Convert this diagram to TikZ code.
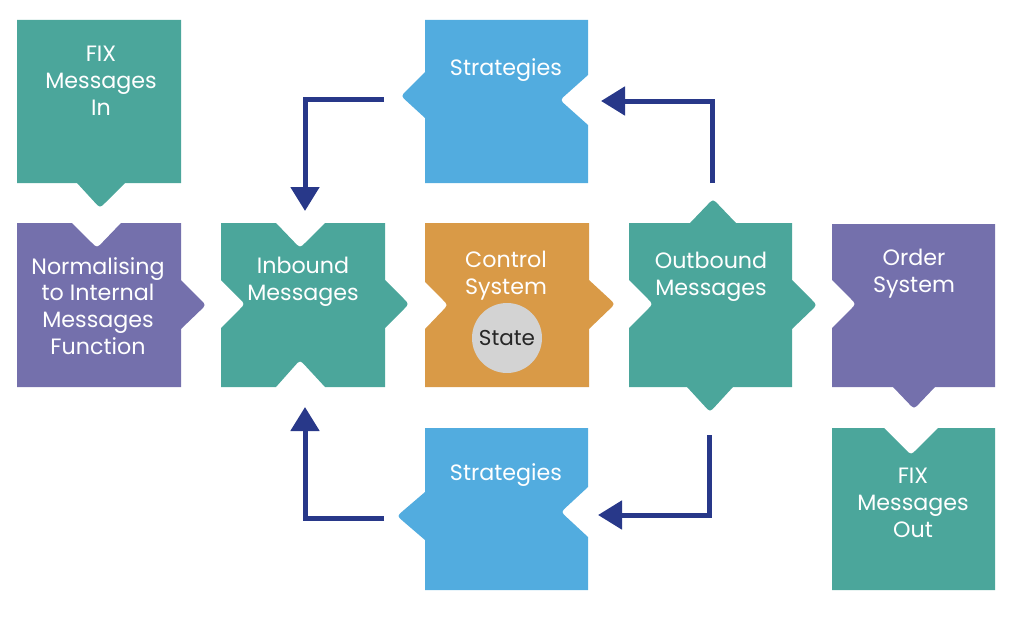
\documentclass[tikz,border=0pt]{standalone}
\usepackage{fontspec}
\setmainfont{Poppins}
\usetikzlibrary{arrows.meta,calc}
\definecolor{myteal}{HTML}{4BA69B}
\definecolor{mypurple}{HTML}{7470AC}
\definecolor{myblue}{HTML}{52ACDF}
\definecolor{myorange}{HTML}{D99A47}
\definecolor{mystate}{HTML}{D3D3D3}
\definecolor{mynavy}{HTML}{283889}

% a tab or a notch with a soft point: base A, point T, base B
\newcommand{\pointy}[3]{-- (#1) -- ($(#2)!8pt!(#1)$) .. controls (#2) .. ($(#2)!8pt!(#3)$) -- (#3)}

\begin{document}
\begin{tikzpicture}[
  x=1pt, y=-1pt,
  lbl/.style  ={text=white, align=center, inner sep=0pt, yshift=-2pt,
                font=\fontsize{22.2}{26.8}\selectfont},
  statebub/.style={circle, fill=mystate, minimum size=70pt, inner sep=0pt,
                   text=black!85, font=\fontsize{21.5}{25}\selectfont},
  flow/.style ={draw=mynavy, line width=5pt, -{Triangle[length=24pt,width=28pt]}},
]
\useasboundingbox (0,0) rectangle (1024,626);

% ==================================================== LEFT COLUMN: input side
\fill[myteal] (17,20) -- (181,20) -- (181,183) \pointy{125,183}{100,208}{77,183} -- (17,183) -- cycle;
\node[lbl] (fixin) at (101,79) {FIX\\Messages\\In};

\fill[mypurple] (17,223) \pointy{72,223}{97,248}{121,223} -- (181,223)
  \pointy{181,280}{206,305}{181,329} -- (181,387) -- (17,387) -- cycle;
\node[lbl] (norm) at (98,304) {Normalising\\to Internal\\Messages\\Function};

% ==================================================== MIDDLE ROW
\fill[myteal] (221,223) \pointy{276,223}{300,248}{325,223} -- (385,223)
  \pointy{385,280}{409,304}{385,328} -- (385,387)
  \pointy{325,387}{300,360}{276,387} -- (221,387)
  \pointy{221,328}{245,304}{221,280} -- cycle;
\node[lbl] (inb) at (303,280) {Inbound\\Messages};

\fill[myorange] (425,223) -- (589,223) \pointy{589,280}{615,304}{589,329} -- (589,387) -- (425,387)
  \pointy{425,329}{448,305}{425,282} -- cycle;
\node[lbl] (ctrl) at (506,274) {Control\\System};
\node[statebub] (state) at (507,338) {State};

\fill[myteal] (629,223) \pointy{690,223}{713,199}{736,223} -- (792,223)
  \pointy{792,280}{817,305}{792,329} -- (792,387)
  \pointy{733,387}{710,412}{687,387} -- (629,387)
  \pointy{629,328}{653,304}{629,280} -- cycle;
\node[lbl] (outb) at (711,275) {Outbound\\Messages};

% ==================================================== RIGHT COLUMN: output side
\fill[mypurple] (832,224) -- (995,224) -- (995,387) \pointy{935,387}{914,409}{893,387} -- (832,387)
  \pointy{832,328}{856,304}{832,280} -- cycle;
\node[lbl] (order) at (914,272) {Order\\System};

\fill[myteal] (832,428) \pointy{884,428}{911,455}{938,428} -- (995,428) -- (995,590) -- (832,590) -- cycle;
\node[lbl] (fixout) at (913,501) {FIX\\Messages\\Out};

% ==================================================== the two strategy blocks
\fill[myblue] (425,20) -- (588,20) \pointy{588,75}{560,100}{588,125} -- (588,183) -- (425,183)
  \pointy{425,118}{401,96}{425,72} -- cycle;
\node[lbl] (stratup) at (506,68) {Strategies};

\fill[myblue] (425,428) -- (588,428) \pointy{588,487}{561,512}{588,537} -- (588,590) -- (425,590)
  \pointy{425,540}{397,516}{425,492} -- cycle;
\node[lbl] (stratdn) at (506,473) {Strategies};

% ==================================================== the feedback loop
\coordinate (stratup-w) at (384,99);
\coordinate (inb-n)     at (305,211);
\coordinate (outb-n)    at (712,183);
\coordinate (stratup-e) at (601,101);
\coordinate (outb-s)    at (709,435);
\coordinate (stratdn-e) at (598,515);
\coordinate (stratdn-w) at (384,518);
\coordinate (inb-s)     at (305,407);

\draw[flow] (stratup-w) -| (inb-n);
\draw[flow] (outb-n) |- (stratup-e);
\draw[flow] (outb-s) |- (stratdn-e);
\draw[flow] (stratdn-w) -| (inb-s);

\end{tikzpicture}
\end{document}
